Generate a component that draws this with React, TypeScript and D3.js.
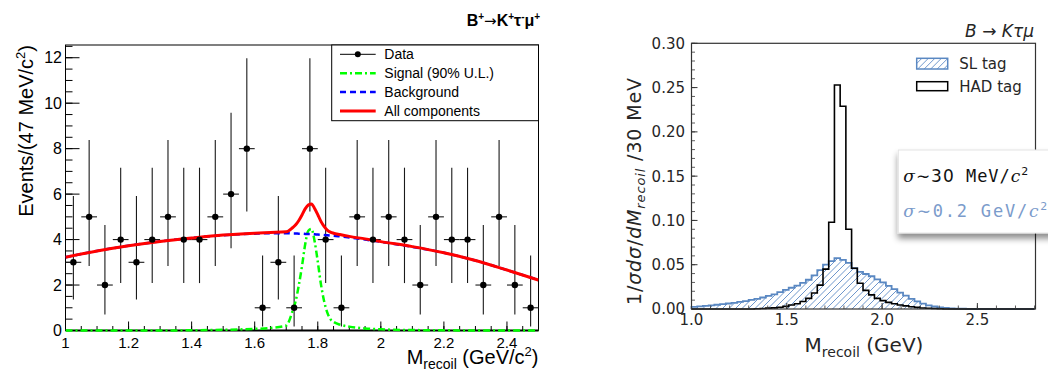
import React from 'react';
import * as d3 from 'd3';

// ---------- Left panel data (B+ -> K+ tau- mu+ fit) ----------
const dataX = [1.025, 1.075, 1.125, 1.175, 1.225, 1.275, 1.325, 1.375, 1.425, 1.475, 1.525, 1.575, 1.625, 1.675, 1.725, 1.775, 1.825, 1.875, 1.925, 1.975, 2.025, 2.075, 2.125, 2.175, 2.225, 2.275, 2.325, 2.375, 2.425, 2.475];
const dataY = [3, 5, 2, 4, 3, 4, 5, 4, 4, 5, 6, 8, 1, 3, 1, 8, 4, 1, 5, 4, 5, 4, 2, 5, 4, 4, 2, 5, 2, 1];
const garwoodLow = [0, 0.173, 0.708, 1.367, 2.086, 2.84, 3.62, 4.418, 5.231];
const garwoodHigh = [1.841, 3.3, 4.638, 5.918, 7.163, 8.382, 9.584, 10.772, 11.98];
const binHalfWidth = 0.025;

const fitX = [1.0, 1.1, 1.2, 1.3, 1.4, 1.5, 1.6, 1.65, 1.7, 1.72, 1.73, 1.74, 1.75, 1.76, 1.77, 1.78, 1.79, 1.8, 1.81, 1.82, 1.83, 1.84, 1.85, 1.87, 1.9, 1.95, 2.0, 2.1, 2.2, 2.3, 2.4, 2.5];
const bkgY = [3.22, 3.5, 3.73, 3.92, 4.07, 4.19, 4.26, 4.28, 4.28, 4.27, 4.27, 4.26, 4.26, 4.25, 4.24, 4.24, 4.23, 4.22, 4.21, 4.2, 4.19, 4.18, 4.17, 4.14, 4.09, 4.0, 3.9, 3.68, 3.42, 3.08, 2.66, 2.22];
const sigY = [0, 0, 0, 0, 0.01, 0.03, 0.07, 0.11, 0.22, 0.85, 1.3, 2.0, 2.83, 3.78, 4.39, 4.47, 3.93, 3.03, 2.04, 1.3, 0.8, 0.5, 0.38, 0.26, 0.17, 0.09, 0.05, 0.02, 0.01, 0, 0, 0];
const totY = [3.22, 3.5, 3.73, 3.92, 4.07, 4.2, 4.28, 4.31, 4.34, 4.52, 4.65, 4.84, 5.08, 5.35, 5.52, 5.57, 5.37, 5.1, 4.8, 4.58, 4.42, 4.33, 4.28, 4.22, 4.14, 4.03, 3.91, 3.69, 3.42, 3.08, 2.66, 2.22];

const leftXTicks = [1, 1.2, 1.4, 1.6, 1.8, 2, 2.2, 2.4];
const leftXTickLabels = ['1', '1.2', '1.4', '1.6', '1.8', '2', '2.2', '2.4'];
const leftYTicks = [0, 2, 4, 6, 8, 10, 12];
const legendLabels = ['Data', 'Signal (90% U.L.)', 'Background', 'All components'];

// ---------- Right panel data (B -> K tau mu recoil mass) ----------
const histStart = 1.0;
const histBinWidth = 0.03;
const slTag = [0.0025, 0.003, 0.0035, 0.0042, 0.0048, 0.0055, 0.0062, 0.007, 0.008, 0.009,
  0.0102, 0.0115, 0.013, 0.0148, 0.0165, 0.019, 0.0215, 0.024, 0.0265, 0.0295,
  0.033, 0.038, 0.044, 0.05, 0.054, 0.0575, 0.0555, 0.052, 0.046, 0.042,
  0.0395, 0.037, 0.0335, 0.03, 0.026, 0.0225, 0.0185, 0.015, 0.0115, 0.0085,
  0.006, 0.004, 0.0028, 0.0018, 0.0012, 0.0008, 0.0005, 0.0003, 0, 0,
  0, 0, 0, 0, 0, 0, 0, 0, 0, 0];
const hadTag = [0, 0, 0, 0, 0, 0, 0, 0, 0, 0,
  0, 0.0003, 0.0005, 0.001, 0.0013, 0.002, 0.003, 0.0045, 0.006, 0.0085,
  0.012, 0.018, 0.027, 0.045, 0.098, 0.253, 0.229, 0.09, 0.046, 0.029,
  0.021, 0.016, 0.012, 0.0095, 0.0075, 0.006, 0.0045, 0.0035, 0.0025, 0.0018,
  0.0012, 0.0008, 0.0005, 0.0003, 0, 0, 0, 0, 0, 0,
  0, 0, 0, 0, 0, 0, 0, 0, 0, 0];
const rightXTicks = [1.0, 1.5, 2.0, 2.5];
const rightXTickLabels = ['1.0', '1.5', '2.0', '2.5'];
const rightYTicks = [0, 0.05, 0.1, 0.15, 0.2, 0.25, 0.3];
const rightYTickLabels = ['0.00', '0.05', '0.10', '0.15', '0.20', '0.25', '0.30'];
const rightLegend = ['SL tag', 'HAD tag'];

const LFONT = '"Liberation Sans", Arial, Helvetica, sans-serif';
const RFONT = '"DejaVu Sans", sans-serif';
const RTXT = '#262626';
const BLUE = '#5a88c2';
const HATCH = '#6f97cc';

export default function App() {
  // left scales
  const xL = d3.scaleLinear().domain([1, 2.5]).range([65.5, 538.5]);
  const yL = d3.scaleLinear().domain([0, 12.56]).range([330.5, 45]);
  const L = { left: 65.5, right: 538.5, top: 45, bottom: 330.5 };

  const lineOf = (ys: number[]) =>
    d3.line<number>().x((_, i) => xL(fitX[i])).y((d) => yL(d)).curve(d3.curveMonotoneX)(ys) || '';

  const xMinorL = d3.range(1, 2.5001, 0.05);
  const yMinorL = d3.range(0, 12.51, 0.5);

  // right scales
  const xR = d3.scaleLinear().domain([1, 2.805]).range([691.5, 1035.5]);
  const yR = d3.scaleLinear().domain([0, 0.3]).range([309, 43.3]);
  const R = { left: 691.5, right: 1035.5, top: 43.3, bottom: 309 };

  const binPts = (vals: number[]) => {
    const pts: [number, number][] = vals.map((v, i) => [histStart + i * histBinWidth, v]);
    pts.push([histStart + vals.length * histBinWidth, vals[vals.length - 1]]);
    return pts;
  };
  const stepArea = d3.area<[number, number]>().x((d) => xR(d[0])).y0(yR(0)).y1((d) => yR(d[1])).curve(d3.curveStepAfter);
  const stepLine = (vals: number[]) => {
    const pts = binPts(vals);
    const inner = d3.line<[number, number]>().x((d) => xR(d[0])).y((d) => yR(d[1])).curve(d3.curveStepAfter)(pts) || '';
    return `M${xR(pts[0][0])},${yR(0)}L` + inner.slice(1) + `L${xR(pts[pts.length - 1][0])},${yR(0)}`;
  };
  const xMinorR = d3.range(1, 2.801, 0.1);
  const yMinorR = d3.range(0, 0.3001, 0.01);

  // hatch lines (///) for SL area, clipped to the area
  const hatchSpacing = 6.5;
  const hatchOffsets = d3.range(R.left - 80, R.right + 10, hatchSpacing);
  const legHatch = d3.range(916.7 - 12, 947.7 + 2, hatchSpacing);

  return (
    <svg width={1048} height={370} style={{ position: 'absolute', left: 0, top: 0, background: '#fff' }}>
      <defs>
        <clipPath id="clipL">
          <rect x={L.left} y={L.top} width={L.right - L.left} height={L.bottom - L.top + 2} />
        </clipPath>
        <clipPath id="clipSL">
          <path d={stepArea(binPts(slTag)) || ''} />
        </clipPath>
        <clipPath id="clipLeg">
          <rect x={916.7} y={58.3} width={31} height={10.7} />
        </clipPath>
        <filter id="shadow" x="-10%" y="-10%" width="130%" height="140%">
          <feDropShadow dx={0} dy={5} stdDeviation={3} floodColor="#000" floodOpacity={0.45} />
        </filter>
      </defs>

      {/* ================= LEFT PANEL ================= */}
      <g fontFamily={LFONT}>
        <rect x={L.left} y={L.top} width={L.right - L.left} height={L.bottom - L.top} fill="none" stroke="#000" strokeWidth={1} />
        <line x1={L.left} x2={L.right} y1={L.bottom} y2={L.bottom} stroke="#000" strokeWidth={2} />
        {yMinorL.map((v, i) => (
          <line key={'ym' + i} x1={L.left} x2={L.left + 7} y1={yL(v)} y2={yL(v)} stroke="#000" strokeWidth={1} />
        ))}
        {leftYTicks.map((v) => (
          <g key={'yt' + v}>
            <line x1={L.left} x2={L.left + 14} y1={yL(v)} y2={yL(v)} stroke="#000" strokeWidth={1} />
            <text x={62} y={yL(v)} dy="0.36em" textAnchor="end" fontSize={16} fill="#000">{v}</text>
          </g>
        ))}
        {xMinorL.map((v, i) => (
          <line key={'xm' + i} x1={xL(v)} x2={xL(v)} y1={L.bottom} y2={L.bottom - 4.5} stroke="#000" strokeWidth={1} />
        ))}
        {leftXTicks.map((v, i) => (
          <g key={'xt' + v}>
            <line x1={xL(v)} x2={xL(v)} y1={L.bottom} y2={L.bottom - 9} stroke="#000" strokeWidth={1} />
            <text x={xL(v)} y={348} textAnchor="middle" fontSize={15} fill="#000">{leftXTickLabels[i]}</text>
          </g>
        ))}

        {dataX.map((x, i) => {
          const n = dataY[i];
          return (
            <g key={'d' + i}>
              <line x1={xL(x)} x2={xL(x)} y1={yL(garwoodLow[n])} y2={yL(garwoodHigh[n])} stroke="#1a1a1a" strokeWidth={1.1} />
              <line x1={xL(x - binHalfWidth)} x2={xL(x + binHalfWidth)} y1={yL(n)} y2={yL(n)} stroke="#1a1a1a" strokeWidth={1.1} />
            </g>
          );
        })}

        <g clipPath="url(#clipL)" fill="none">
          <path d={lineOf(sigY)} stroke="#00ff00" strokeWidth={2.5} strokeDasharray="7,3,2,3" />
          <path d={lineOf(bkgY)} stroke="#0000ff" strokeWidth={2.5} strokeDasharray="6,4" />
          <path d={lineOf(totY)} stroke="#ff0000" strokeWidth={3} />
        </g>
        {dataX.map((x, i) => (
          <circle key={'c' + i} cx={xL(x)} cy={yL(dataY[i])} r={3.2} fill="#000" />
        ))}

        <rect x={331.7} y={45} width={206.8} height={75.7} fill="#fff" stroke="#000" strokeWidth={1} />
        {legendLabels.map((lab, i) => {
          const yy = 54.3 + i * 18.9;
          return (
            <g key={'lg' + i}>
              {i === 0 && (
                <g>
                  <line x1={340} x2={375.7} y1={yy} y2={yy} stroke="#000" strokeWidth={1} />
                  <circle cx={357.8} cy={yy} r={3} fill="#000" />
                </g>
              )}
              {i === 1 && <line x1={340} x2={375.7} y1={yy} y2={yy} stroke="#00ff00" strokeWidth={2.5} strokeDasharray="7,3,2,3" />}
              {i === 2 && <line x1={340} x2={375.7} y1={yy} y2={yy} stroke="#0000ff" strokeWidth={2.5} strokeDasharray="6,4" />}
              {i === 3 && <line x1={340} x2={375.7} y1={yy} y2={yy} stroke="#ff0000" strokeWidth={3} />}
              <text x={384.3} y={yy + 5} fontSize={14} fill="#000">{lab}</text>
            </g>
          );
        })}

        <text x={466.7} y={26} fontSize={16} fontWeight="bold" fill="#000">
          B<tspan fontSize={10} dy={-6}>+</tspan>
          <tspan dy={6} fontFamily='"DejaVu Sans", sans-serif' fontWeight="normal" fontSize={15}>→</tspan>
          <tspan>K</tspan>
          <tspan fontSize={10} dy={-6}>+</tspan>
          <tspan dy={6}>τ</tspan>
          <tspan fontSize={10} dy={-6}>-</tspan>
          <tspan dy={6}>μ</tspan>
          <tspan fontSize={10} dy={-6}>+</tspan>
        </text>

        <text transform="translate(33,45) rotate(-90)" textAnchor="end" fontSize={20} fill="#000">
          Events/(47 MeV/c<tspan fontSize={13} dy={-8}>2</tspan><tspan dy={8}>)</tspan>
        </text>
        <text x={538.5} y={364} textAnchor="end" fontSize={20} fill="#000">
          M<tspan fontSize={14} dy={5}>recoil</tspan>
          <tspan dy={-5}> (GeV/c</tspan>
          <tspan fontSize={13} dy={-8}>2</tspan>
          <tspan dy={8}>)</tspan>
        </text>
      </g>

      {/* ================= RIGHT PANEL ================= */}
      <g fontFamily={RFONT}>
        <g clipPath="url(#clipSL)">
          {hatchOffsets.map((o, i) => (
            <line key={'h' + i} x1={o} y1={R.bottom} x2={o + 80} y2={R.bottom - 80} stroke={HATCH} strokeWidth={1} />
          ))}
        </g>
        <path d={stepLine(slTag)} fill="none" stroke={BLUE} strokeWidth={1.8} />
        <path d={stepLine(hadTag)} fill="none" stroke="#000" strokeWidth={1.6} />

        <rect x={R.left} y={R.top} width={R.right - R.left} height={R.bottom - R.top} fill="none" stroke="#333" strokeWidth={1.2} />
        {yMinorR.map((v, i) => (
          <line key={'rym' + i} x1={R.left} x2={R.left + 3.5} y1={yR(v)} y2={yR(v)} stroke="#333" strokeWidth={0.8} />
        ))}
        {rightYTicks.map((v, i) => (
          <g key={'ryt' + i}>
            <line x1={R.left} x2={R.left + 6} y1={yR(v)} y2={yR(v)} stroke="#333" strokeWidth={1} />
            <text x={685} y={yR(v)} dy="0.36em" textAnchor="end" fontSize={15} fill={RTXT}>{rightYTickLabels[i]}</text>
          </g>
        ))}
        {xMinorR.map((v, i) => (
          <line key={'rxm' + i} x1={xR(v)} x2={xR(v)} y1={R.bottom} y2={R.bottom - 3.5} stroke="#333" strokeWidth={0.8} />
        ))}
        {rightXTicks.map((v, i) => (
          <g key={'rxt' + i}>
            <line x1={xR(v)} x2={xR(v)} y1={R.bottom} y2={R.bottom - 6} stroke="#333" strokeWidth={1} />
            <text x={xR(v)} y={325} textAnchor="middle" fontSize={15} fill={RTXT}>{rightXTickLabels[i]}</text>
          </g>
        ))}

        <g clipPath="url(#clipLeg)">
          {legHatch.map((o, i) => (
            <line key={'lh' + i} x1={o} y1={69} x2={o + 12} y2={57} stroke={HATCH} strokeWidth={1} />
          ))}
        </g>
        <rect x={916.7} y={58.3} width={31} height={10.7} fill="none" stroke={BLUE} strokeWidth={1.5} />
        <text x={959.3} y={68.5} fontSize={15} fill={RTXT}>{rightLegend[0]}</text>
        <rect x={916.7} y={81.7} width={31} height={9} fill="#fff" stroke="#000" strokeWidth={1.5} />
        <text x={959.3} y={91.5} fontSize={15} fill={RTXT}>{rightLegend[1]}</text>

        <text x={1034} y={36.5} textAnchor="end" fontSize={17} fontStyle="italic" fill={RTXT}>
          B → Kτμ
        </text>

        <text transform="translate(641,78) rotate(-90)" textAnchor="end" fontSize={19} fill={RTXT} textLength={227} lengthAdjust="spacing">
          1/<tspan fontStyle="italic">σdσ</tspan>/<tspan fontStyle="italic">dM</tspan>
          <tspan fontSize={13} fontStyle="italic" dy={4}>recoil</tspan>
          <tspan dy={-4}> /30 MeV</tspan>
        </text>
        <text x={864} y={352} textAnchor="middle" fontSize={20} fill={RTXT}>
          M<tspan fontSize={14} dy={5}>recoil</tspan>
          <tspan dy={-5}> (GeV)</tspan>
        </text>

        <rect x={898.3} y={150} width={170} height={83} fill="#fff" stroke="#e4e4e4" strokeWidth={1} filter="url(#shadow)" />
        <text x={903.3} y={182} fontSize={17} fill="#111" textLength={125} lengthAdjust="spacing">
          <tspan fontFamily='"DejaVu Serif", serif' fontStyle="italic">σ</tspan>
          <tspan>∼</tspan>
          <tspan>30</tspan>
          <tspan fontFamily='"DejaVu Sans Mono", monospace'> MeV/</tspan>
          <tspan fontFamily='"DejaVu Serif", serif' fontStyle="italic">c</tspan>
          <tspan fontSize={11} dy={-7}>2</tspan>
        </text>
        <text x={903.3} y={217} fontSize={17} fill="#7b9bcb" textLength={144} lengthAdjust="spacing">
          <tspan fontFamily='"DejaVu Serif", serif' fontStyle="italic">σ</tspan>
          <tspan>∼</tspan>
          <tspan fontFamily='"DejaVu Sans Mono", monospace'>0.2 GeV/</tspan>
          <tspan fontFamily='"DejaVu Serif", serif' fontStyle="italic">c</tspan>
          <tspan fontSize={11} dy={-7}>2</tspan>
        </text>
      </g>
    </svg>
  );
}
